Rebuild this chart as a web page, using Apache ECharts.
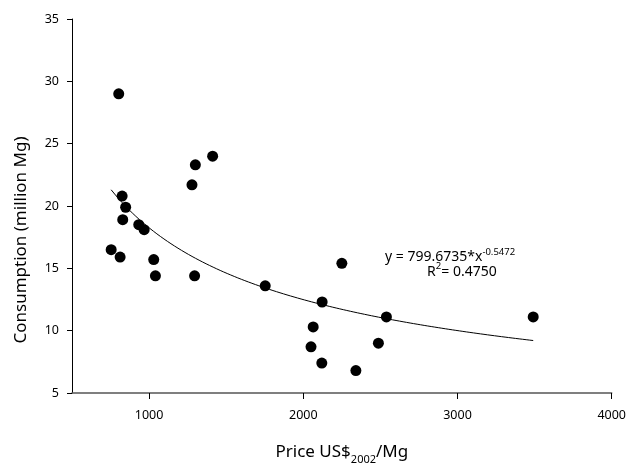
<!DOCTYPE html>
<html>
<head>
<meta charset="utf-8">
<script src="https://cdn.jsdelivr.net/npm/echarts@6/dist/echarts.min.js"></script>
<style>
  html, body { margin: 0; padding: 0; background: #fff; }
  #chart { width: 629px; height: 470px; }
</style>
</head>
<body>
<div id="chart"></div>
<script>
// Price (US$ 2002 per Mg) and consumption (million Mg) observations
const price = [803, 1412, 1300, 1278, 825, 848, 829, 933, 968, 754, 812, 1030,
               1041, 1295, 2250, 1753, 2122, 2064, 2050, 2120, 2539, 2487, 2341, 3491];
const consumption = [29.0, 24.0, 23.3, 21.7, 20.8, 19.9, 18.9, 18.5, 18.1, 16.5, 15.9, 15.7,
                     14.4, 14.4, 15.4, 13.6, 12.3, 10.3, 8.7, 7.4, 11.1, 9.0, 6.8, 11.1];

// Power-law fit y = a * x^b
const fitA = 799.6735;
const fitB = -0.5472;
const fitR2 = 0.4750;

const xTicks = [1000, 2000, 3000, 4000];

const FONT = '"Noto Sans", "DejaVu Sans", sans-serif';

const points = price.map((p, i) => [p, consumption[i]]);

// Fitted curve over the observed price range
const xMin = Math.min(...price), xMax = Math.max(...price);
const curve = [];
const steps = 120;
for (let i = 0; i <= steps; i++) {
  const x = xMin + (xMax - xMin) * i / steps;
  curve.push([x, fitA * Math.pow(x, fitB)]);
}

const chart = echarts.init(document.getElementById('chart'), null, { renderer: 'canvas' });

chart.setOption({
  animation: false,
  backgroundColor: '#fff',
  grid: { left: 72, right: 16, top: 19, bottom: 68 },
  xAxis: {
    type: 'value',
    min: 500,
    max: 4000,
    interval: 500,
    name: '{a|Price US$}{s|2002}{a|/Mg}',
    nameLocation: 'middle',
    nameGap: 48,
    nameTextStyle: {
      rich: {
        a: { fontFamily: FONT, fontSize: 17, color: '#000', lineHeight: 20, verticalAlign: 'bottom' },
        s: { fontFamily: FONT, fontSize: 11, color: '#000', lineHeight: 20, verticalAlign: 'bottom', padding: [0, 0, -4, 0] }
      }
    },
    axisLine: { show: true, onZero: false, lineStyle: { color: '#555', width: 1.5 } },
    axisTick: { show: true, length: 6, customValues: xTicks, lineStyle: { color: '#000', width: 1 } },
    axisLabel: {
      customValues: xTicks, margin: 16, fontFamily: FONT, fontSize: 12.5, color: '#000',
      formatter: v => String(v)
    },
    splitLine: { show: false }
  },
  yAxis: {
    type: 'value',
    min: 5,
    max: 35,
    interval: 5,
    axisLine: { show: true, onZero: false, lineStyle: { color: '#000', width: 1 } },
    axisTick: { show: true, length: 5, lineStyle: { color: '#000', width: 1 } },
    axisLabel: { margin: 13, fontFamily: FONT, fontSize: 12.5, color: '#000' },
    splitLine: { show: false }
  },
  series: [
    {
      type: 'line',
      data: curve,
      showSymbol: false,
      symbol: 'none',
      smooth: false,
      lineStyle: { color: '#000', width: 1 },
      z: 2
    },
    {
      type: 'scatter',
      data: points,
      symbol: 'circle',
      symbolSize: 11,
      itemStyle: { color: '#000', opacity: 1 },
      z: 3
    }
  ]
});

// Axis title on the left and the two lines of the fit annotation
const eqLine1 = chart.convertToPixel({ gridIndex: 0 }, [2530, 16.0]);
const eqLine2 = chart.convertToPixel({ gridIndex: 0 }, [2803, 14.85]);
const supRich = {
  a: { fontFamily: FONT, fontSize: 14, color: '#000', lineHeight: 17, verticalAlign: 'bottom' },
  sup: { fontFamily: FONT, fontSize: 9.5, color: '#000', lineHeight: 17, verticalAlign: 'top', padding: [0, 0, 5, 0] }
};
chart.setOption({
  graphic: [
    {
      type: 'text',
      x: 21,
      y: 240,
      rotation: Math.PI / 2,
      style: {
        text: 'Consumption (million Mg)',
        font: '17px ' + FONT,
        fill: '#000',
        align: 'center',
        verticalAlign: 'middle'
      }
    },
    {
      type: 'text',
      x: eqLine1[0],
      y: eqLine1[1],
      style: {
        text: '{a|y = ' + fitA.toFixed(4) + '*x}{sup|' + fitB.toFixed(4) + '}',
        align: 'left',
        verticalAlign: 'middle',
        rich: supRich
      }
    },
    {
      type: 'text',
      x: eqLine2[0],
      y: eqLine2[1],
      style: {
        text: '{a|R}{sup|2}{a|= ' + fitR2.toFixed(4) + '}',
        align: 'left',
        verticalAlign: 'middle',
        rich: supRich
      }
    }
  ]
});
</script>
</body>
</html>
